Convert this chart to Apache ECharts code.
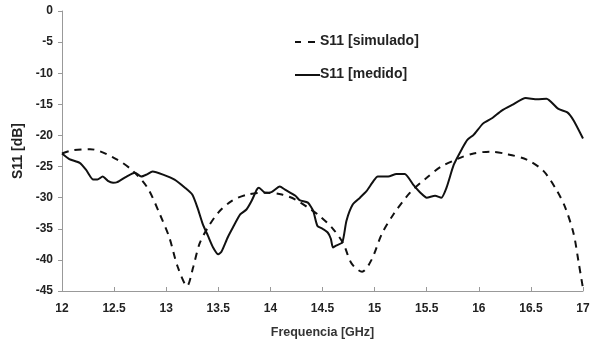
<!DOCTYPE html>
<html>
<head>
<meta charset="utf-8">
<script src="https://cdn.jsdelivr.net/npm/echarts@6/dist/echarts.min.js"></script>
<style>html,body{margin:0;padding:0;background:#fff}#c{width:598px;height:344px}</style>
</head>
<body>
<div id="c"></div>
<script>
var xTicks = [12, 12.5, 13, 13.5, 14, 14.5, 15, 15.5, 16, 16.5, 17];
var yTicks = [0, -5, -10, -15, -20, -25, -30, -35, -40, -45];
var legendNames = ['S11 [simulado]', 'S11 [medido]'];

var simFreq = [12.0, 12.1, 12.27, 12.53, 12.68, 12.82, 12.94, 13.03, 13.11, 13.2, 13.26, 13.32, 13.40, 13.50, 13.63, 13.78, 13.95, 14.11, 14.24, 14.36, 14.47, 14.60, 14.70, 14.78, 14.88, 14.97, 15.07, 15.18, 15.34, 15.50, 15.63, 15.82, 15.95, 16.11, 16.27, 16.46, 16.62, 16.75, 16.83, 16.91, 16.96, 17.0];
var simVal = [-22.9, -22.4, -22.2, -23.9, -25.7, -28.4, -32.7, -36.4, -41.1, -44.2, -41.1, -37.4, -34.8, -32.4, -30.5, -29.5, -29.2, -29.5, -30.3, -31.6, -32.9, -35.0, -37.4, -40.6, -41.9, -40.0, -35.8, -32.7, -29.2, -26.8, -25.1, -23.6, -22.9, -22.6, -23.0, -23.9, -25.7, -28.9, -31.6, -35.8, -40.6, -44.6];

var measFreq = [12.0, 12.07, 12.17, 12.23, 12.30, 12.34, 12.39, 12.44, 12.49, 12.53, 12.62, 12.70, 12.76, 12.81, 12.87, 12.97, 13.08, 13.18, 13.25, 13.30, 13.35, 13.40, 13.45, 13.50, 13.53, 13.59, 13.64, 13.71, 13.77, 13.82, 13.87, 13.89, 13.95, 14.01, 14.09, 14.14, 14.24, 14.28, 14.36, 14.41, 14.45, 14.50, 14.55, 14.58, 14.60, 14.63, 14.69, 14.73, 14.79, 14.86, 14.92, 14.99, 15.03, 15.13, 15.21, 15.29, 15.37, 15.44, 15.50, 15.58, 15.64, 15.69, 15.76, 15.84, 15.89, 15.95, 16.04, 16.13, 16.22, 16.32, 16.45, 16.56, 16.65, 16.76, 16.85, 16.91, 17.0];
var measVal = [-22.9, -23.8, -24.4, -25.5, -27.1, -27.1, -26.6, -27.3, -27.6, -27.5, -26.6, -26.0, -26.6, -26.3, -25.8, -26.3, -27.1, -28.4, -29.5, -31.6, -34.2, -36.1, -38.0, -39.1, -38.7, -36.4, -34.8, -32.7, -31.9, -30.5, -28.7, -28.4, -29.2, -29.1, -28.2, -28.7, -29.7, -30.4, -30.8, -32.1, -34.5, -35.0, -35.6, -36.6, -38.0, -37.7, -37.2, -33.7, -31.1, -30.0, -29.0, -27.3, -26.6, -26.6, -26.2, -26.2, -27.9, -29.2, -30.0, -29.7, -30.0, -28.4, -24.7, -22.1, -20.7, -19.9, -18.1, -17.2, -16.0, -15.1, -14.0, -14.2, -14.1, -15.7, -16.3, -17.6, -20.5];

function pairs(xs, ys) { return xs.map(function (x, i) { return [x, ys[i]]; }); }

var font = '"Liberation Sans", Arial, sans-serif';
var chart = echarts.init(document.getElementById('c'));
chart.setOption({
  animation: false,
  backgroundColor: '#fff',
  grid: { left: 62, right: 15, top: 11, bottom: 50, containLabel: false },
  graphic: [
    { type: 'line', shape: { x1: 295, y1: 42, x2: 301, y2: 42 }, style: { stroke: '#111', lineWidth: 2 } },
    { type: 'line', shape: { x1: 308, y1: 42, x2: 315, y2: 42 }, style: { stroke: '#111', lineWidth: 2 } },
    { type: 'text', left: 320, top: 34, style: { text: legendNames[0], fontFamily: font, fontWeight: 'bold', fontSize: 14, fill: '#222' } },
    { type: 'line', shape: { x1: 295, y1: 75, x2: 320, y2: 75 }, style: { stroke: '#111', lineWidth: 2 } },
    { type: 'text', left: 320, top: 67, style: { text: legendNames[1], fontFamily: font, fontWeight: 'bold', fontSize: 14, fill: '#222' } }
  ],
  xAxis: {
    type: 'value', min: 12, max: 17, interval: 0.5,
    name: 'Frequencia [GHz]', nameLocation: 'middle', nameGap: 35,
    nameTextStyle: { fontFamily: font, fontWeight: 'bold', fontSize: 12.5, color: '#333' },
    axisLine: { onZero: false, lineStyle: { color: '#999', width: 1 } },
    axisTick: { inside: true, length: 4, lineStyle: { color: '#999' } },
    axisLabel: { fontFamily: font, fontWeight: 'bold', fontSize: 12, color: '#222', margin: 12,
      formatter: function (v) { return xTicks.indexOf(v) >= 0 ? String(v) : ''; } },
    splitLine: { show: false }
  },
  yAxis: {
    type: 'value', min: -45, max: 0, interval: 5,
    name: 'S11 [dB]', nameLocation: 'middle', nameGap: 34,
    nameTextStyle: { fontFamily: font, fontWeight: 'bold', fontSize: 14, color: '#222' },
    axisLine: { show: true, onZero: false, lineStyle: { color: '#999', width: 1 } },
    axisTick: { show: true, length: 4, lineStyle: { color: '#999' } },
    axisLabel: { fontFamily: font, fontWeight: 'bold', fontSize: 12, color: '#222', margin: 9,
      formatter: function (v) { return yTicks.indexOf(v) >= 0 ? String(v) : ''; } },
    splitLine: { show: false }
  },
  series: [
    { name: legendNames[0], type: 'line', data: pairs(simFreq, simVal), showSymbol: false, symbol: 'none', smooth: 0.3,
      lineStyle: { color: '#111', width: 2, type: [7, 6] }, itemStyle: { color: '#111' } },
    { name: legendNames[1], type: 'line', data: pairs(measFreq, measVal), showSymbol: false, symbol: 'none', smooth: 0.2,
      lineStyle: { color: '#111', width: 2, type: 'solid' }, itemStyle: { color: '#111' } }
  ]
});
</script>
</body>
</html>
